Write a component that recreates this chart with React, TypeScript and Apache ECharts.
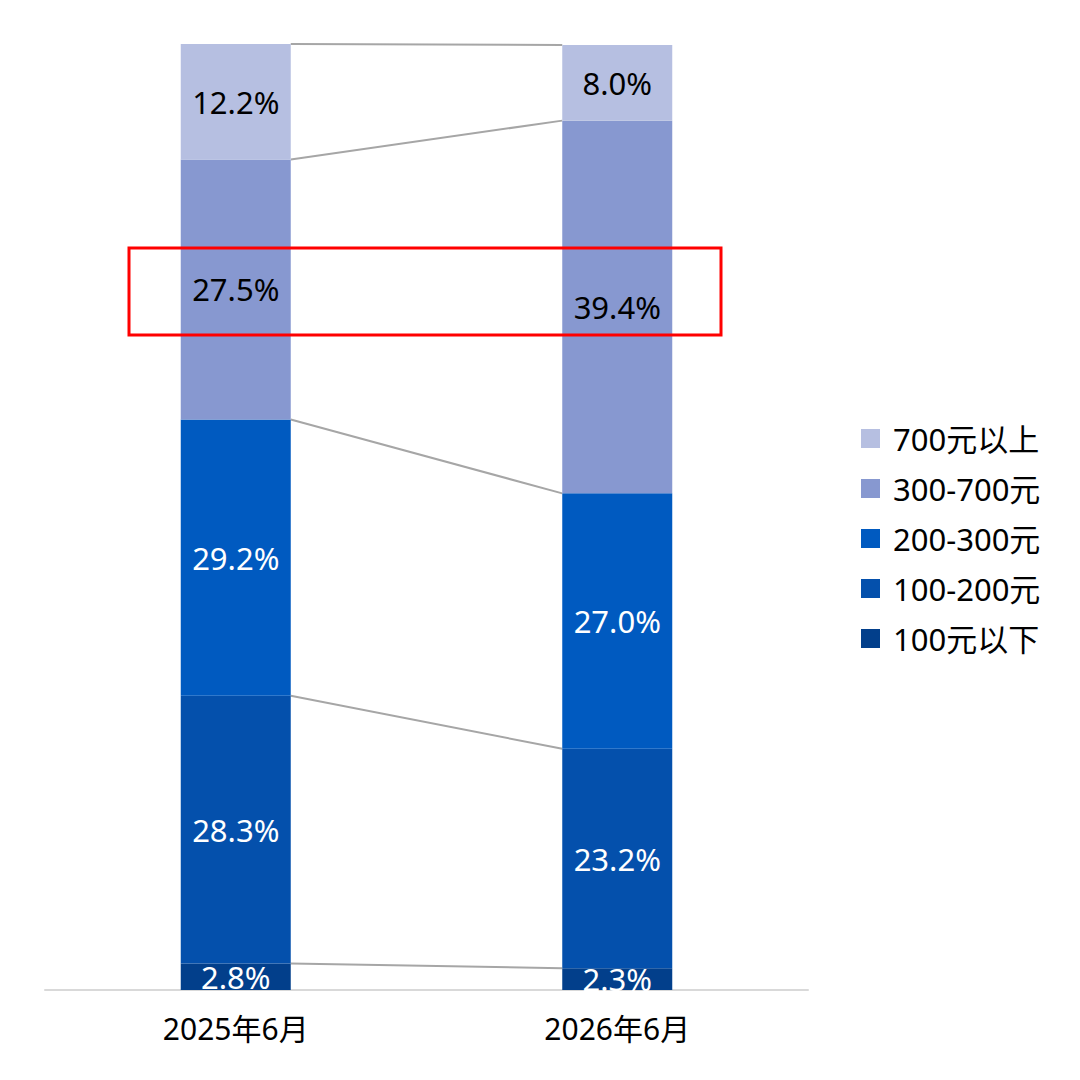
import React, { useEffect, useRef } from "react";
import * as echarts from "echarts";

const categories = ["2025年6月", "2026年6月"];
const seriesNames = ["100元以下", "100-200元", "200-300元", "300-700元", "700元以上"];
const values2025 = [2.8, 28.3, 29.2, 27.5, 12.2];
const values2026 = [2.3, 23.2, 27.0, 39.4, 8.0];
const colors = ["#023F8B", "#0450AC", "#005AC0", "#8798D0", "#B6BFE1"];
const labelColors = ["#FFFFFF", "#FFFFFF", "#FFFFFF", "#000000", "#000000"];

const FONT = "'Noto Sans', 'Noto Sans CJK SC', sans-serif";
const BAR_W = 110;

export default function App() {
  const ref = useRef<HTMLDivElement>(null);
  useEffect(() => {
    if (!ref.current) return;
    const chart = echarts.init(ref.current, null, { renderer: "svg" });

    const cum = (arr: number[]) => {
      const out: number[] = [];
      let s = 0;
      arr.forEach((v) => {
        s += v;
        out.push(Math.round(s * 10) / 10);
      });
      return out;
    };
    const c25 = cum(values2025);
    const c26 = cum(values2026);
    const connectorData = c25.map((v, i) => [v, c26[i]]);

    const barSeries = seriesNames.map((name, i) => ({
      name,
      type: "bar",
      stack: "total",
      barWidth: BAR_W,
      data: [values2025[i], values2026[i]],
      itemStyle: { color: colors[i] },
      label: {
        show: true,
        position: "inside",
        formatter: (p: any) => p.value.toFixed(1) + "%",
        color: labelColors[i],
        fontSize: 31,
        fontFamily: FONT,
      },
      z: 2,
    }));

    chart.setOption({
      animation: false,
      backgroundColor: "#FFFFFF",
      grid: { left: 45, right: 272, top: 44, bottom: 90 },
      legend: {
        orient: "vertical",
        left: 861,
        top: 423,
        padding: 0,
        itemWidth: 19,
        itemHeight: 19,
        itemGap: 19,
        icon: "rect",
        data: [...seriesNames].reverse(),
        textStyle: {
          fontSize: 31,
          fontFamily: FONT,
          color: "#000000",
          lineHeight: 31,
          padding: [0, 0, 0, 8],
        },
      },
      xAxis: {
        type: "category",
        data: categories,
        axisLine: { show: true, lineStyle: { color: "#D9D9D9", width: 2 } },
        axisTick: { show: false },
        axisLabel: { fontSize: 30, fontFamily: FONT, color: "#000000", margin: 23 },
      },
      yAxis: {
        type: "value",
        min: 0,
        max: 100,
        show: false,
        splitLine: { show: false },
      },
      series: [
        ...barSeries,
        {
          type: "custom",
          name: "connectors",
          data: connectorData,
          z: 1,
          silent: true,
          renderItem: (params: any, api: any) => {
            const p1 = api.coord([0, api.value(0)]);
            const p2 = api.coord([1, api.value(1)]);
            return {
              type: "line",
              shape: {
                x1: p1[0] + BAR_W / 2,
                y1: p1[1],
                x2: p2[0] - BAR_W / 2,
                y2: p2[1],
              },
              style: { stroke: "#A6A6A6", lineWidth: 2 },
            };
          },
        },
      ],
      graphic: [
        {
          type: "rect",
          shape: { x: 129, y: 248, width: 592, height: 87 },
          style: { fill: "none", stroke: "#FF0000", lineWidth: 3 },
          z: 10,
        },
      ],
    });
    return () => chart.dispose();
  }, []);
  return (
    <div
      ref={ref}
      style={{ width: 1080, height: 1080, position: "fixed", left: 0, top: 0 }}
    />
  );
}
